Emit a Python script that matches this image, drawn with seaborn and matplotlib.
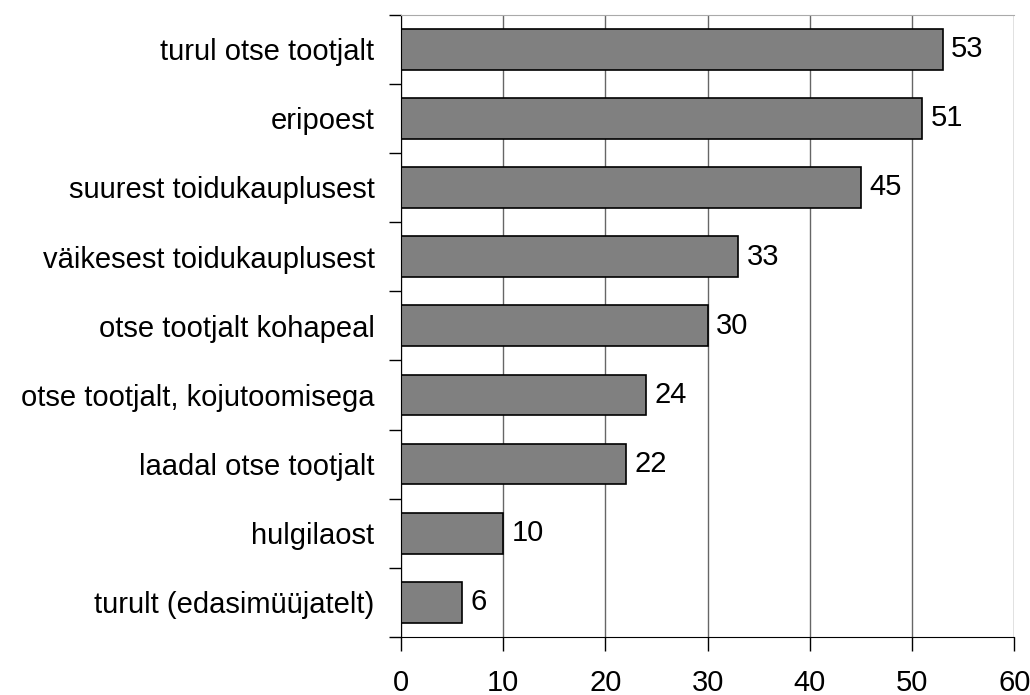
import seaborn as sns
import matplotlib.pyplot as plt
import pandas as pd
import numpy as np

# where people buy (percent)
places = ["turul otse tootjalt", "eripoest", "suurest toidukauplusest",
          "väikesest toidukauplusest", "otse tootjalt kohapeal",
          "otse tootjalt, kojutoomisega", "laadal otse tootjalt",
          "hulgilaost", "turult (edasimüüjatelt)"]
shares = [53, 51, 45, 33, 30, 24, 22, 10, 6]
xticks = [0, 10, 20, 30, 40, 50, 60]

df = pd.DataFrame({"koht": places, "osakaal": shares})

sns.set_style("white")
plt.rcParams['font.family'] = ['Liberation Sans', 'DejaVu Sans']
plt.rcParams['text.color'] = 'black'
plt.rcParams['xtick.labelcolor'] = 'black'
plt.rcParams['ytick.labelcolor'] = 'black'

fig = plt.figure(figsize=(10.3, 6.95), dpi=100)
ax = fig.add_axes([0.3893, 0.0835, 0.5955, 0.8955])

sns.barplot(data=df, x="osakaal", y="koht", orient="h", color="#808080",
            saturation=1, width=0.59, edgecolor="black", linewidth=1.2, ax=ax)

for i, v in enumerate(shares):
    ax.text(v + 0.8, i, str(v), va="center", ha="left", fontsize=21, color="black")

ax.set_xlim(0, 60)
ax.set_ylim(len(places) - 0.5, -0.5)
ax.set_xticks(xticks)
ax.set_xticklabels([str(t) for t in xticks], fontsize=21)
ax.tick_params(axis="x", bottom=True, direction="out", length=10, width=1,
               pad=13, color="black")
ax.tick_params(axis="y", which="major", left=True, length=0, pad=19, labelsize=21)
ax.set_yticks(np.arange(-0.5, len(places), 1), minor=True)
ax.tick_params(axis="y", which="minor", left=True, direction="out", length=9,
               width=1, color="black")
ax.set_xlabel("")
ax.set_ylabel("")

ax.grid(axis="x", color="#666666", linewidth=1)
ax.set_axisbelow(True)
ax.spines["right"].set_visible(False)
ax.spines["top"].set_color("#aaaaaa")
ax.spines["left"].set_color("black")
ax.spines["bottom"].set_color("black")

fig.savefig("out.png", dpi=100)
